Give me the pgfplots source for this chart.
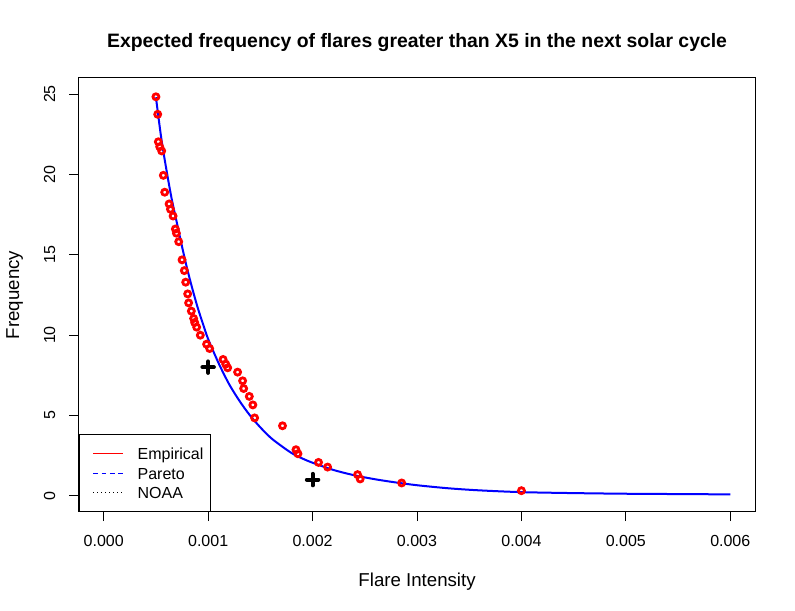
\documentclass[border=0pt]{standalone}
\usepackage{pgfplots}
\pgfplotsset{compat=1.18}
\usepackage{fontspec}
\setmainfont{Liberation Sans}
\definecolor{rred}{RGB}{255,0,0}
\definecolor{bblue}{RGB}{0,0,255}
\begin{document}
\begin{tikzpicture}
\path[use as bounding box] (0pt,0pt) rectangle (596.25pt,457.5pt);
\begin{axis}[
  at={(59.0pt,73.7pt)}, anchor=south west,
  scale only axis, width=507.5pt, height=325.3pt,
  xmin=-0.00024, xmax=0.00624, ymin=-1, ymax=26,
  scaled x ticks=false, scaled y ticks=false,
  xtick={0,0.001,0.002,0.003,0.004,0.005,0.006},
  xticklabels={0.000,0.001,0.002,0.003,0.004,0.005,0.006},
  ytick={0,5,10,15,20,25},
  yticklabels={0,5,10,15,20,25},
  tick pos=left, tick align=outside,
  major tick length=7pt,
  tick style={black, line width=0.75pt},
  axis line style={line width=0.75pt},
  ticklabel style={font=\fontsize{12pt}{14pt}\selectfont},
  xticklabel style={anchor=north, inner sep=0pt},
  xticklabel shift=10.5pt,
  yticklabel style={rotate=90, anchor=south, inner sep=0pt},
  yticklabel shift=10.3pt,
  legend cell align=left,
  legend style={at={(0,0)}, anchor=south west, draw=black, line width=0.75pt,
    inner xsep=5pt, inner ysep=9.5pt, row sep=6pt, column sep=10.8pt,
    font=\fontsize{12pt}{14pt}\selectfont,
    nodes={inner sep=0pt, text height=8.6pt, text depth=0pt}},
]
\addlegendimage{legend image code/.code={\path[draw=none,fill=none] (0pt,5pt) -- (0pt,0pt) -- (27.7pt,0pt); \draw[draw=rred, line width=0.75pt, solid] (5.5pt,0pt) -- (27.7pt,0pt);}}
\addlegendentry{Empirical}
\addlegendimage{legend image code/.code={\path[draw=none,fill=none] (0pt,0pt) -- (27.7pt,0pt); \draw[draw=bblue, line width=0.75pt, dash pattern=on 3.5pt off 2.8pt] (5.5pt,0pt) -- (27.7pt,0pt);}}
\addlegendentry{Pareto}
\addlegendimage{legend image code/.code={\path[draw=none,fill=none] (0pt,0pt) -- (27.7pt,0pt); \draw[draw=black, line width=0.75pt, dash pattern=on 0.75pt off 2.25pt] (5.5pt,0pt) -- (27.7pt,0pt);}}
\addlegendentry{NOAA}

\addplot[bblue, line width=1.5pt, smooth, forget plot] coordinates {
(0.0005,24.8) (0.00055,22.3) (0.0006,20.3) (0.00065,18.5) (0.0007,17.0)
(0.00075,15.5) (0.0008,14.1) (0.00085,12.85) (0.0009,11.7) (0.00095,10.7)
(0.001,9.75) (0.0011,8.25) (0.0012,6.95) (0.0013,5.9) (0.0014,5.0)
(0.0015,4.25) (0.0016,3.6) (0.0017,3.1) (0.0018,2.65) (0.0019,2.32)
(0.002,2.05) (0.0022,1.6) (0.0024,1.27) (0.0026,1.02) (0.0028,0.82)
(0.003,0.65) (0.0033,0.46) (0.0036,0.33) (0.004,0.22) (0.0045,0.16)
(0.005,0.12) (0.0055,0.10) (0.006,0.08)
};

\addplot[only marks, mark=o, mark size=2.25pt, rred, mark options={line width=2.1pt}, forget plot] coordinates {
(0.0005,24.83) (0.000517,23.74) (0.000523,22.03) (0.000536,21.72) (0.000555,21.46)
(0.000571,19.94) (0.000584,18.89) (0.000626,18.16) (0.000639,17.83) (0.000664,17.41)
(0.000686,16.60) (0.000696,16.34) (0.000718,15.81) (0.00075,14.68) (0.000772,14.01)
(0.000785,13.29) (0.000804,12.56) (0.000813,12.00) (0.000839,11.49) (0.000861,11.03)
(0.000871,10.78) (0.00089,10.49) (0.000925,9.99) (0.000985,9.43) (0.001014,9.16)
(0.001143,8.48) (0.001168,8.19) (0.001187,7.96) (0.001282,7.69) (0.00133,7.15)
(0.00134,6.67) (0.001394,6.18) (0.001428,5.65) (0.001445,4.84) (0.001712,4.35)
(0.001841,2.86) (0.00186,2.61) (0.002057,2.07) (0.002144,1.78) (0.002431,1.31)
(0.002456,1.04) (0.002853,0.79) (0.004,0.31)
};

\addplot[only marks, mark=+, mark size=4.3pt, black, mark options={line width=3pt, line cap=round}, forget plot] coordinates {
(0.001,8.0) (0.002,1.0)
};
\end{axis}
\node[font=\bfseries\fontsize{14.55pt}{17pt}\selectfont, anchor=base] at (312.8pt,421.5pt)
  {Expected frequency of flares greater than X5 in the next solar cycle};
\node[font=\fontsize{14pt}{17pt}\selectfont, anchor=base] at (312.8pt,17.5pt) {Flare Intensity};
\node[font=\fontsize{14pt}{17pt}\selectfont, anchor=base, rotate=90] at (14.25pt,236.25pt) {Frequency};
\end{tikzpicture}
\end{document}
